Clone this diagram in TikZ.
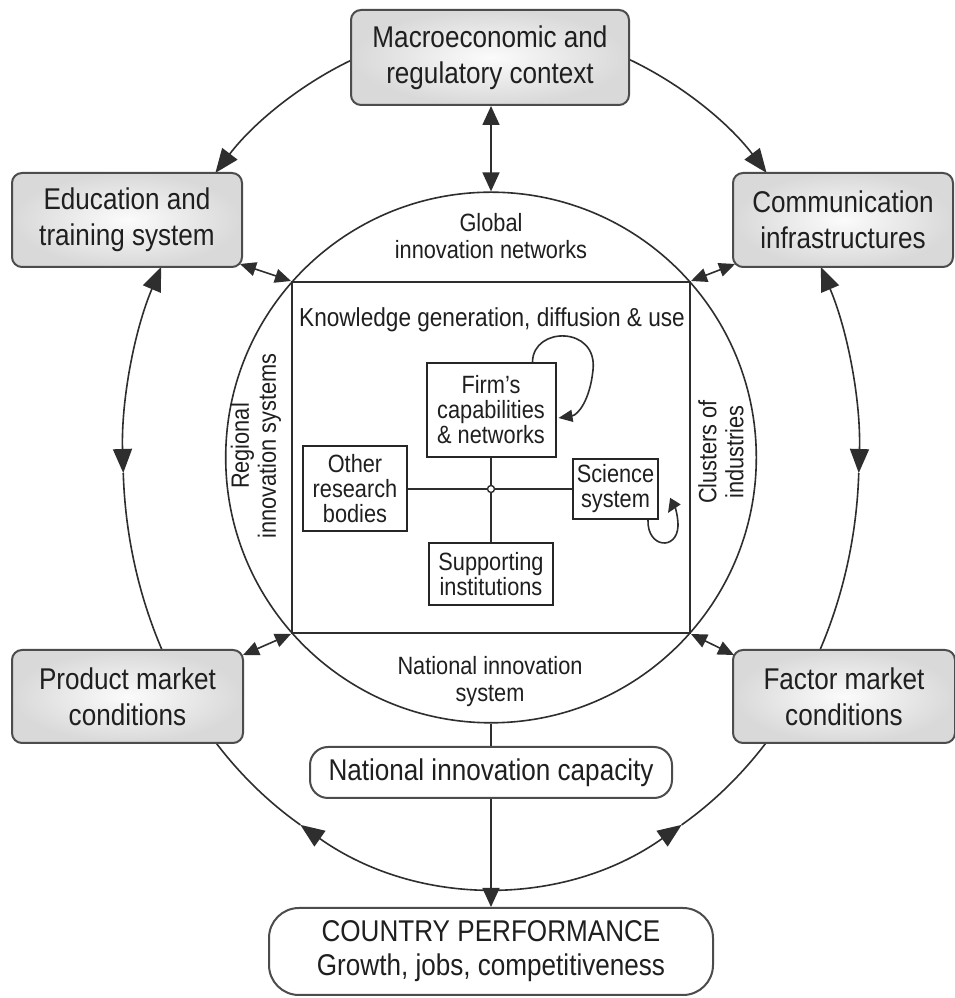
\documentclass[tikz,border=0pt]{standalone}
\usepackage{fontspec}
\setmainfont{Liberation Sans}[FakeStretch=0.87]
\usetikzlibrary{arrows.meta,calc}
\begin{document}
\begin{tikzpicture}[x=1pt,y=1pt,
  conn/.style={draw=black!82, line width=1.6pt},
  bigtip/.style={conn, -{Triangle[length=24pt,width=19pt]}},
  bigdbl/.style={conn, {Triangle[length=24pt,width=19pt]}-{Triangle[length=24pt,width=19pt]}},
  middbl/.style={conn, {Triangle[length=16pt,width=14pt]}-{Triangle[length=16pt,width=14pt]}},
  vdbl/.style={conn, {Triangle[length=19pt,width=17pt]}-{Triangle[length=19pt,width=17pt]}},
  vtip/.style={conn, -{Triangle[length=19pt,width=17pt]}},
  smalltip/.style={conn, -{Triangle[length=14pt,width=12pt]}},
  obox/.style={draw=black!70, line width=2pt, rounded corners=10pt, shade, inner color=gray!3, outer color=gray!30, align=center, text=black!88, font=\fontsize{30pt}{36pt}\selectfont, inner sep=0pt},
  wbox/.style={draw=black!70, line width=2pt, fill=white, align=center, text=black!88, font=\fontsize{30pt}{34pt}\selectfont, inner sep=0pt},
  ibox/.style={draw=black!85, line width=2pt, fill=white, align=center, text=black!88, font=\fontsize{25pt}{25pt}\selectfont, inner sep=0pt},
  lbl/.style={align=center, text=black!88, font=\fontsize{25pt}{27pt}\selectfont, inner sep=0pt},
]
\useasboundingbox (0,0) rectangle (955,998);
\fill[white] (0,0) rectangle (955,998);

% centre of the circle / ellipse
\coordinate (C) at (491,540.5);

% points on the outer ellipse
\path (C) ++(112.5:368pt and 429.5pt) coordinate (eMacL);
\path (C) ++(68.1:368pt and 429.5pt) coordinate (eMacR);
\path (C) ++(153.67:368pt and 429.5pt) coordinate (eEduB);
\path (C) ++(182.07:368pt and 429.5pt) coordinate (eLmid);
\path (C) ++(26.33:368pt and 429.5pt) coordinate (eComB);
\path (C) ++(-2.07:368pt and 429.5pt) coordinate (eRmid);
\path (C) ++(221.66:368pt and 429.5pt) coordinate (eProB);
\path (C) ++(238.8:368pt and 429.5pt) coordinate (eBL);
\path (C) ++(301.2:368pt and 429.5pt) coordinate (eBR);

% outer arcs
\draw[bigtip] (eMacL) arc[start angle=112.5, end angle=138.5, x radius=368pt, y radius=429.5pt];
\draw[bigtip] (eMacR) arc[start angle=68.1, end angle=41.5, x radius=368pt, y radius=429.5pt];
\draw[bigdbl] (eEduB) arc[start angle=153.67, end angle=182.07, x radius=368pt, y radius=429.5pt];
\draw[conn] (eLmid) arc[start angle=182.07, end angle=206.63, x radius=368pt, y radius=429.5pt];
\draw[bigdbl] (eComB) arc[start angle=26.33, end angle=-2.07, x radius=368pt, y radius=429.5pt];
\draw[conn] (eRmid) arc[start angle=-2.07, end angle=-26.63, x radius=368pt, y radius=429.5pt];
\draw[conn] (eProB) arc[start angle=221.66, end angle=238.8, x radius=368pt, y radius=429.5pt];
\draw[bigdbl] (eBL) arc[start angle=238.8, end angle=301.2, x radius=368pt, y radius=429.5pt];
\draw[conn] (eBR) arc[start angle=301.2, end angle=318.34, x radius=368pt, y radius=429.5pt];

% inner circle and square
\node[circle, draw=black!82, line width=1.6pt, minimum size=530.6pt, inner sep=0pt] (ic) at (C) {};
\node[draw=black!82, line width=2pt, minimum width=398pt, minimum height=351pt, inner sep=0pt] (sq) at (C) {};

% outer boxes
\node[obox, minimum width=278pt, minimum height=95pt] (mac) at (490,940.5) {Macroeconomic and\\regulatory context};
\node[obox, minimum width=230pt, minimum height=94pt] (edu) at (127,778) {Education and\\training system};
\node[obox, minimum width=220pt, minimum height=94pt] (com) at (843,778) {Communication\\infrastructures};
\node[obox, minimum width=231pt, minimum height=93pt] (pro) at (127.5,301.5) {Product market\\conditions};
\node[obox, minimum width=222pt, minimum height=93pt] (fac) at (844,301.5) {Factor market\\conditions};
\node[wbox, rounded corners=18pt, minimum width=362pt, minimum height=51pt] (nic) at (491,225.5) {National innovation capacity};
\node[wbox, rounded corners=30pt, minimum width=444pt, minimum height=87pt] (cp) at (491,46.5) {COUNTRY PERFORMANCE\\Growth, jobs, competitiveness};

% labels in the rings
\node[lbl] (glob) at (491,762) {Global\\innovation networks};
\node[lbl] (nat) at (490,316) {National innovation\\system};
\node[lbl, rotate=90] (reg) at (256,552) {Regional\\innovation systems};
\node[lbl, rotate=90] (clu) at (721,546) {Clusters of\\industries};
\node[lbl, font=\fontsize{26pt}{28pt}\selectfont] (know) at (492,678) {Knowledge generation, diffusion \& use};

% inner boxes
\node[ibox, minimum width=129pt, minimum height=94pt] (firm) at (491,588) {Firm's\\capabilities\\\& networks};
\node[ibox, minimum width=104pt, minimum height=85pt] (oth) at (355,509) {Other\\research\\bodies};
\node[ibox, minimum width=85pt, minimum height=60pt] (sci) at (615.5,509) {Science\\system};
\node[ibox, minimum width=124pt, minimum height=62pt] (sup) at (491,424) {Supporting\\institutions};

\coordinate (hub) at (491,509);
\draw[conn] (oth.east) -- (hub) -- (sci.west);
\draw[conn] (firm.south) -- (hub) -- (sup.north);
\node[circle, draw=black!82, line width=1.4pt, fill=white, minimum size=7pt, inner sep=0pt] (hubdot) at (hub) {};

% self loops
\coordinate (fs) at ($(firm.north east)+(-24,0)$);
\coordinate (fe) at ($(firm.east)+(2,-8)$);
\draw[smalltip] (fs) .. controls (533,672) and (598,672) .. (593,628) .. controls (590,598) and (578,583) .. (fe);
\coordinate (ss) at ($(sci.south east)+(-11,0)$);
\coordinate (se) at (668,485);
\draw[smalltip] (ss) .. controls (647,450) and (677,447) .. (678,472) .. controls (678,487) and (673,493) .. (se);

% connectors between rings and boxes
\draw[vdbl] (ic.north |- mac.south) -- (ic.north);
\draw[middbl] ($(edu.south east)+(-3,4)$) -- (sq.north west);
\draw[middbl] ($(com.south west)+(3,4)$) -- (sq.north east);
\draw[middbl] ($(pro.north east)+(-1,-6)$) -- (sq.south west);
\draw[middbl] ($(fac.north west)+(2,-6)$) -- (sq.south east);
\draw[conn] (ic.south) -- (nic.north);
\draw[vtip] (nic.south) -- (cp.north);
\end{tikzpicture}
\end{document}
